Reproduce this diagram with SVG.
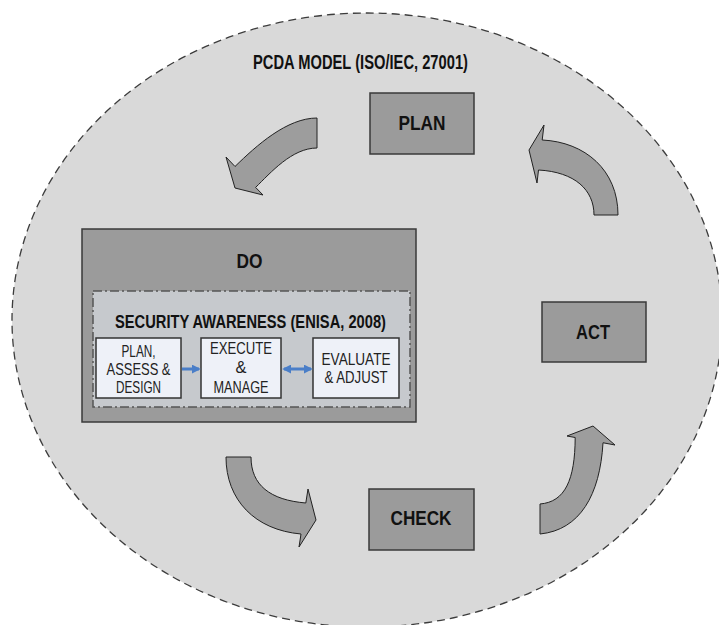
<svg xmlns="http://www.w3.org/2000/svg" width="719" height="625" viewBox="0 0 719 625">
<defs>
<style>
.bg{fill:#ffffff}
.circle{fill:#d9d9d9;stroke:#3c3c3c;stroke-width:1.3;stroke-dasharray:8 5}
.box{fill:#9b9b9b;stroke:#3a3a3a;stroke-width:1.5}
.inner{fill:#c6c9cd;stroke:#555;stroke-width:1.5;stroke-dasharray:9 3 2 3}
.sub{fill:#eef1f8;stroke:#333;stroke-width:1.5}
.arrow{fill:#9d9d9d;stroke:#222;stroke-width:1}
.blue{stroke:#4a7ec8;stroke-width:3;fill:none}
.lbl{font-family:"Liberation Sans",Arial,sans-serif;font-weight:bold;fill:#111}
.txt{font-family:"Liberation Sans",Arial,sans-serif;font-size:16.5px;fill:#222}
</style>
<marker id="bh" viewBox="0 0 10 10" refX="8" refY="5" markerWidth="3" markerHeight="3" orient="auto-start-reverse" markerUnits="strokeWidth">
<path d="M0,0 L10,5 L0,10 Z" fill="#4a7ec8"/>
</marker>
</defs>
<rect class="bg" x="0" y="0" width="719" height="625"/>
<g id="model">
<ellipse class="circle" cx="367" cy="320" rx="355" ry="307"/>
<text class="lbl" x="253" y="69" font-size="19.5" textLength="215" lengthAdjust="spacingAndGlyphs">PCDA MODEL (ISO/IEC, 27001)</text>
</g>
<g id="plan">
<rect class="box" x="370" y="93" width="104" height="61"/>
<text class="lbl" x="398.5" y="130" font-size="21" textLength="47" lengthAdjust="spacingAndGlyphs">PLAN</text>
</g>
<g id="act">
<rect class="box" x="542" y="302" width="104" height="60"/>
<text class="lbl" x="576" y="339" font-size="21" textLength="34" lengthAdjust="spacingAndGlyphs">ACT</text>
</g>
<g id="check">
<rect class="box" x="369" y="489" width="105" height="61"/>
<text class="lbl" x="390.5" y="525" font-size="21" textLength="61" lengthAdjust="spacingAndGlyphs">CHECK</text>
</g>
<g id="do">
<rect class="box" x="82" y="229" width="334" height="193"/>
<text class="lbl" x="236.5" y="268" font-size="20" textLength="26" lengthAdjust="spacingAndGlyphs">DO</text>
</g>
<g id="security-awareness">
<rect class="inner" x="93" y="291" width="317" height="116"/>
<text class="lbl" x="115" y="328" font-size="17.5" textLength="271" lengthAdjust="spacingAndGlyphs">SECURITY AWARENESS (ENISA, 2008)</text>
</g>
<g id="plan-assess-design">
<rect class="sub" x="96" y="338" width="85" height="60"/>
<text class="txt" x="121.5" y="357" textLength="34" lengthAdjust="spacingAndGlyphs">PLAN,</text>
<text class="txt" x="106.5" y="374.5" textLength="64" lengthAdjust="spacingAndGlyphs">ASSESS &amp;</text>
<text class="txt" x="116" y="392.5" textLength="45" lengthAdjust="spacingAndGlyphs">DESIGN</text>
</g>
<g id="execute-manage">
<rect class="sub" x="201" y="338" width="80" height="60"/>
<text class="txt" x="210" y="354" textLength="62" lengthAdjust="spacingAndGlyphs">EXECUTE</text>
<text class="txt" x="235.5" y="372.5" textLength="11" lengthAdjust="spacingAndGlyphs">&amp;</text>
<text class="txt" x="213.5" y="392.5" textLength="55" lengthAdjust="spacingAndGlyphs">MANAGE</text>
</g>
<g id="evaluate-adjust">
<rect class="sub" x="313" y="338" width="86" height="60"/>
<text class="txt" x="321.5" y="365" textLength="69" lengthAdjust="spacingAndGlyphs">EVALUATE</text>
<text class="txt" x="324.5" y="382.5" textLength="63" lengthAdjust="spacingAndGlyphs">&amp; ADJUST</text>
</g>
<g id="connectors">
<path class="arrow" d="M317,118 C287,118 256.5,145.5 235,166.5 L226,157 L235,188 L263,195 L255.6,187.4 C270.6,172.8 292,148 317,148 Z"/>
<path class="arrow" d="M226,457 L251,457 C251,485 270,500 305.8,503 L308,489 L316,520 L299,547 L301,534 C255,530 226,500 226,457 Z"/>
<path class="arrow" d="M540,504 C565,502 575,480 575.2,437.5 L567,436 L593,426 L615,445 L603,442.75 C600,495 580,530 540,534 Z"/>
<path class="arrow" d="M618,215 L594,215 C594,190 575,172 538.5,170 L537,183 L529,150 L544,125 L542.2,140 C585,142 618,170 618,215 Z"/>
<line class="blue" x1="182" y1="369" x2="199" y2="369" marker-end="url(#bh)"/>
<line class="blue" x1="284" y1="369" x2="311" y2="369" marker-start="url(#bh)" marker-end="url(#bh)"/>
</g>
</svg>
